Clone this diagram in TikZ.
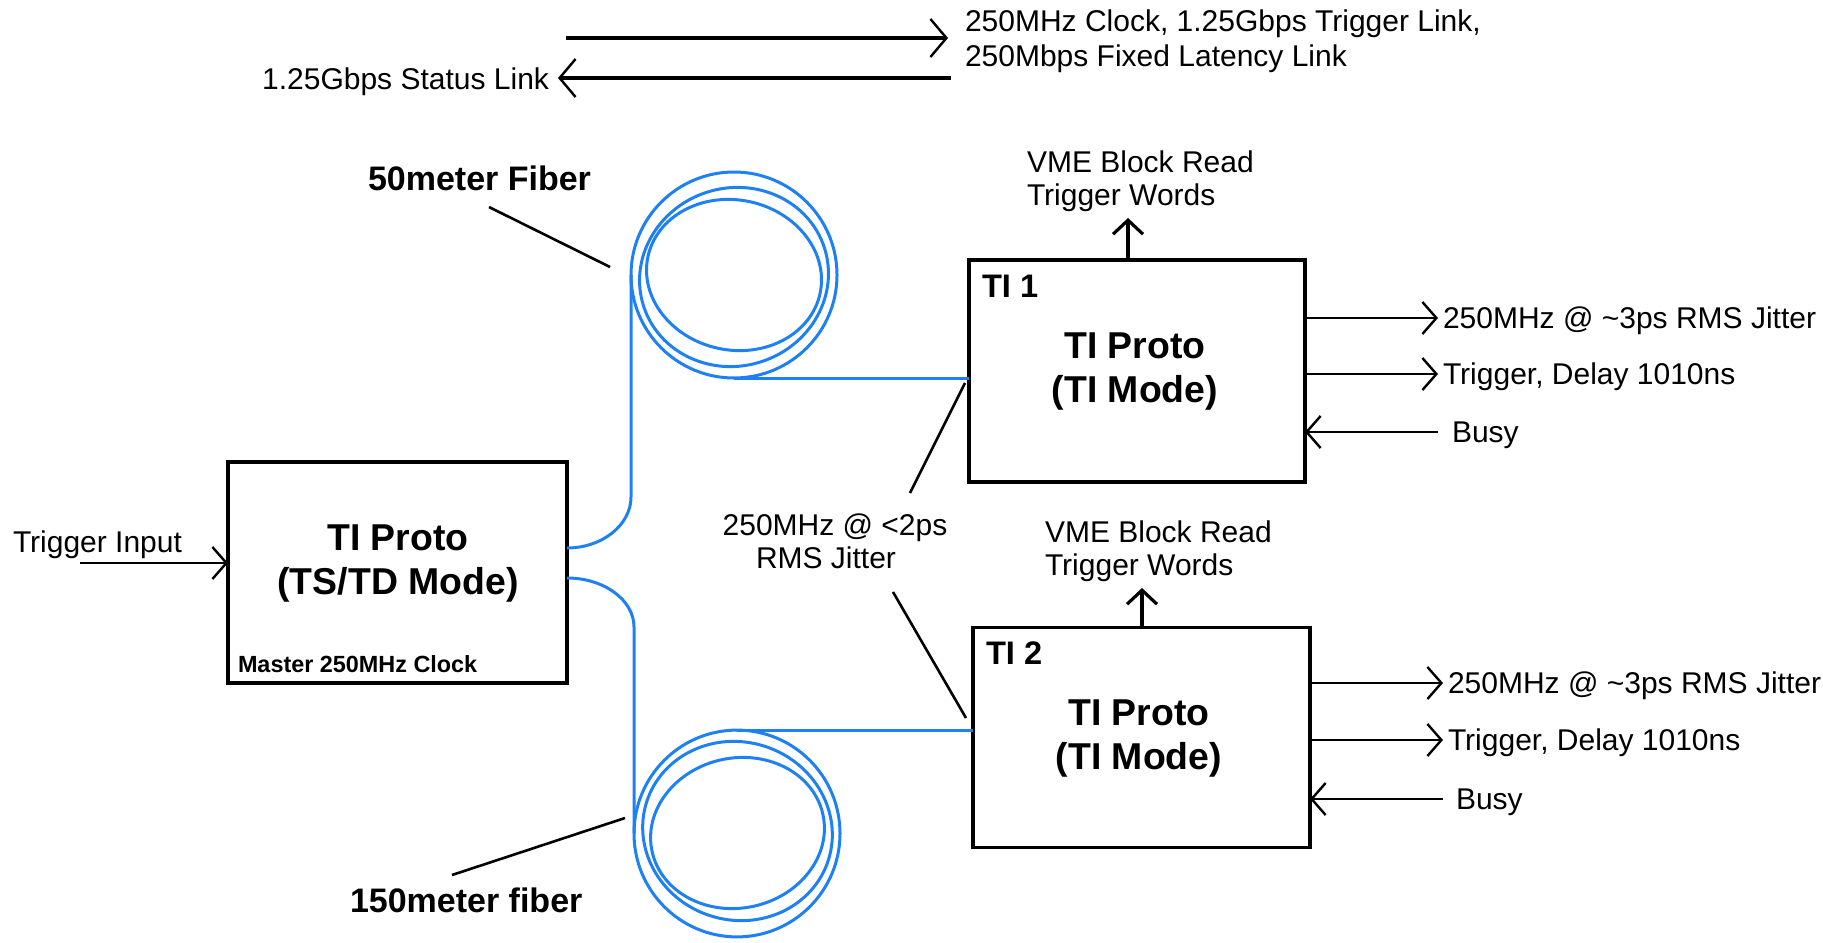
\documentclass[tikz,border=0pt]{standalone}
\usepackage{fontspec}
\setmainfont{Liberation Sans}
\usetikzlibrary{arrows.meta}
\definecolor{fiber}{RGB}{30,128,245}
\begin{document}
\begin{tikzpicture}[x=0.5pt,y=-0.5pt,
  box/.style={draw, line width=1.7pt, inner sep=0pt, outer sep=0pt},
  fib/.style={draw=fiber, line width=1.5pt},
  ann/.style={draw, line width=1.3pt},
  txt/.style={inner sep=0pt, outer sep=0pt, anchor=base west, font=\fontsize{15pt}{18pt}\selectfont},
  ttl/.style={inner sep=0pt, outer sep=0pt, anchor=base, font=\fontsize{18.7pt}{22pt}\selectfont\bfseries},
  tilbl/.style={inner sep=0pt, outer sep=0pt, anchor=base west, font=\fontsize{16.3pt}{19pt}\selectfont\bfseries},
  clk/.style={inner sep=0pt, outer sep=0pt, anchor=base west, font=\fontsize{11.7pt}{14pt}\selectfont\bfseries},
  fiblbl/.style={inner sep=0pt, outer sep=0pt, anchor=base west, font=\fontsize{17pt}{20pt}\selectfont\bfseries},
  thinarrow/.style={line width=1.3pt, -{Straight Barb[length=7pt,width=16pt,line width=1.2pt]}},
  toparrow/.style={line width=1.9pt, -{Straight Barb[length=8pt,width=19pt,line width=1.2pt]}},
  vmearrow/.style={line width=1.9pt, -{Straight Barb[length=7pt,width=15pt,line width=1.6pt]}}
]
\useasboundingbox (0,0) rectangle (1823,942);

% ---- boxes ----
\node[box, minimum width=169.5pt, minimum height=110.5pt] (master) at (397.5,572.5) {};
\node[box, minimum width=168pt, minimum height=111pt] (ti1) at (1137,371) {};
\node[box, minimum width=168.5pt, minimum height=110pt] (ti2) at (1141.5,737.5) {};

% ---- box texts ----
\node[ttl] (m1) at (398,550) {TI Proto};
\node[ttl] (m2) at (398,594) {(TS/TD Mode)};
\node[clk] (mclk) at (238,672) {Master 250MHz Clock};
\node[tilbl] (t1lbl) at (982,297) {TI 1};
\node[ttl] (t1a) at (1135,358) {TI Proto};
\node[ttl] (t1b) at (1135,402) {(TI Mode)};
\node[tilbl] (t2lbl) at (986,664) {TI 2};
\node[ttl] (t2a) at (1139,725) {TI Proto};
\node[ttl] (t2b) at (1139,769) {(TI Mode)};

% ---- top links ----
\node[txt] (top1) at (965,32) {250MHz Clock, 1.25Gbps Trigger Link,};
\node[txt] (top2) at (965,66) {250Mbps Fixed Latency Link};
\node[txt, anchor=base east] (stat) at (549,89) {1.25Gbps Status Link};
\coordinate (a1s) at (566,38);
\coordinate (a1e) at (948,38);
\draw[toparrow] (a1s) -- (a1e);
\coordinate (a2s) at (951,78);
\coordinate (a2e) at (558,78);
\draw[toparrow] (a2s) -- (a2e);

% ---- trigger input ----
\node[txt] (trig) at (13,552) {Trigger Input};
\coordinate (trigS) at (80,563);
\draw[thinarrow] (trigS) -- (master.west |- trigS);

% ---- TI1 outputs ----
\coordinate (o1a) at (1438,318);
\coordinate (o1b) at (1438,374);
\coordinate (o1c) at (1438,432);
\draw[thinarrow] (ti1.east |- o1a) -- (o1a);
\draw[thinarrow] (ti1.east |- o1b) -- (o1b);
\draw[thinarrow] (o1c) -- (ti1.east |- o1c);
\node[txt] (o1at) at (1443,328) {250MHz @ \textasciitilde3ps RMS Jitter};
\node[txt] (o1bt) at (1443,384) {Trigger, Delay 1010ns};
\node[txt] (o1ct) at (1452,442) {Busy};

% ---- TI2 outputs ----
\coordinate (o2a) at (1443,683);
\coordinate (o2b) at (1443,740);
\coordinate (o2c) at (1443,799);
\draw[thinarrow] (ti2.east |- o2a) -- (o2a);
\draw[thinarrow] (ti2.east |- o2b) -- (o2b);
\draw[thinarrow] (o2c) -- (ti2.east |- o2c);
\node[txt] (o2at) at (1448,693) {250MHz @ \textasciitilde3ps RMS Jitter};
\node[txt] (o2bt) at (1448,750) {Trigger, Delay 1010ns};
\node[txt] (o2ct) at (1456,809) {Busy};

% ---- VME ----
\node[txt] (v1a) at (1027,172) {VME Block Read};
\node[txt] (v1b) at (1027,205) {Trigger Words};
\coordinate (v1tip) at (1128,218);
\draw[vmearrow] (ti1.north -| v1tip) -- (v1tip);
\node[txt] (v2a) at (1045,542) {VME Block Read};
\node[txt] (v2b) at (1045,575) {Trigger Words};
\coordinate (v2tip) at (1142,588);
\draw[vmearrow] (ti2.north -| v2tip) -- (v2tip);

% ---- fibers ----
\draw[fib] (master.east |- 0,548) .. controls (602,548) and (631,525) .. (631,497) -- (631,275);
\draw[fib] (734,275) ellipse [x radius=51.5pt, y radius=51.5pt];
\draw[fib, rotate around={18:(734,277)}] (734,277) ellipse [x radius=47.5pt, y radius=44.5pt];
\draw[fib, rotate around={-12:(734,275)}] (734,275) ellipse [x radius=44pt, y radius=37.5pt];
\draw[fib] (734,378) -- (ti1.west |- 0,378);

\draw[fib] (master.east |- 0,578) .. controls (604,578) and (634,600) .. (634,627) -- (634,833);
\draw[fib] (737,833.5) ellipse [x radius=51.5pt, y radius=51.7pt];
\draw[fib, rotate around={-18:(737.5,831)}] (737.5,831) ellipse [x radius=47.7pt, y radius=44.5pt];
\draw[fib, rotate around={12:(737.5,833)}] (737.5,833) ellipse [x radius=43.7pt, y radius=37.5pt];
\draw[fib] (737,730) -- (ti2.west |- 0,730);

% ---- annotations ----
\node[fiblbl] (f50) at (368,190) {50meter Fiber};
\coordinate (f50a) at (489,207);
\coordinate (f50b) at (610,267);
\draw[ann] (f50a) -- (f50b);
\node[fiblbl] (f150) at (350,912) {150meter fiber};
\coordinate (f150a) at (452,875);
\coordinate (f150b) at (625,818);
\draw[ann] (f150a) -- (f150b);

\node[txt, anchor=base] (jit1) at (835,535) {250MHz @ \textless2ps};
\node[txt, anchor=base] (jit2) at (826,568) {RMS Jitter};
\coordinate (j1a) at (910,493);
\coordinate (j1b) at (965,383);
\draw[ann] (j1a) -- (j1b);
\coordinate (j2a) at (893,592);
\coordinate (j2b) at (966,718);
\draw[ann] (j2a) -- (j2b);
\end{tikzpicture}
\end{document}
